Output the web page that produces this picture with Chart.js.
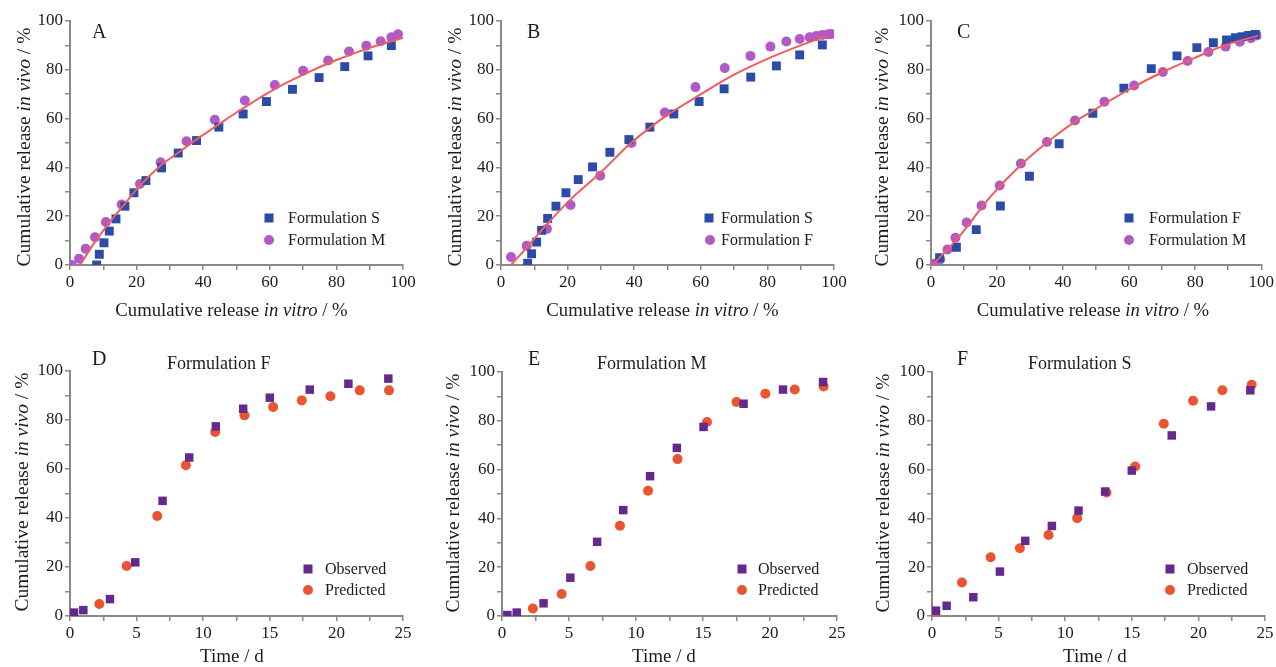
<!DOCTYPE html>
<html><head><meta charset="utf-8">
<script src="https://cdn.jsdelivr.net/npm/chart.js@4.4.1/dist/chart.umd.min.js"></script>
<style>
html,body{margin:0;padding:0;background:#fff;width:1276px;height:667px;overflow:hidden;position:relative}
canvas{position:absolute;display:block}
</style></head><body>
<canvas id="cA"></canvas><canvas id="cB"></canvas><canvas id="cC"></canvas>
<canvas id="cD"></canvas><canvas id="cE"></canvas><canvas id="cF"></canvas>
<script>
// ---------- DATA ----------
// Panel A: Formulation S vs Formulation M (in vitro vs in vivo)
const aSx = [8,8.8,10.2,11.8,13.8,16.5,19.2,22.8,27.5,32.5,38,44.7,52,59,66.8,74.8,82.5,89.5,96.5];
const aSy = [0,4.4,9.1,13.9,18.9,24.1,29.6,34.6,39.8,45.9,51,56.5,61.9,67,72,76.8,81.3,85.7,89.9];
const aMx = [0.5,2.7,4.7,7.5,10.8,15.5,21,27.2,35,43.5,52.5,61.5,70,77.5,83.8,89,93.3,96.5,98.5];
const aMy = [0,2.6,6.7,11.4,17.6,24.8,33.2,42.1,50.7,59.5,67.4,73.8,79.6,83.8,87.5,89.9,91.7,93.3,94.6];
const aFitX = [3,7.5,10.5,15.8,20,27,33,38,44,50,60,70,80,90,100];
const aFitY = [0,9.5,15,24,31,40.5,46.5,51.5,57,62.5,71,78,84,89,93];
// Panel B: Formulation S vs Formulation F
const bSx = [8,9.2,10.7,12.2,14,16.5,19.5,23.2,27.5,32.7,38.4,44.7,51.9,59.5,67,75,82.7,89.7,96.5];
const bSy = [0.7,4.6,9.4,14.2,19.1,24.1,29.6,35,40.2,46.2,51.4,56.5,61.9,67,72.2,77,81.6,86.1,90.2];
const bFx = [3,7.7,13.8,20.9,29.8,39.2,49.2,58.4,67.2,74.9,80.9,85.7,89.7,92.7,94.7,96.5,98.2,99.2];
const bFy = [3.3,7.9,14.8,24.6,36.6,50,62.5,72.9,80.7,85.7,89.5,91.6,92.6,93.3,93.9,94.3,94.6,94.7];
const bFitX = [3,8,14,21,30,39,45,50,60,70,80,90,98];
const bFitY = [0,7.5,17,27,38,50,56.5,61.5,70,78,84.5,90,94];
// Panel C: Formulation F vs Formulation M
const cFx = [2.6,7.7,13.7,21,29.8,38.8,49,58.4,66.7,74.5,80.5,85.5,89.5,92.2,94.2,96.2,98.2];
const cFy = [3,7.3,14.5,24.2,36.4,49.7,62.2,72.5,80.5,85.7,89.1,91.1,92.2,93.2,93.6,94.1,94.5];
const cMx = [0.8,2.8,5,7.4,10.8,15.3,20.8,27.2,35.1,43.6,52.5,61.5,70.2,77.7,84,89.2,93.5,96.9,98.7];
const cMy = [0.5,2.3,6.4,11.2,17.4,24.4,32.6,41.6,50.4,59.2,66.9,73.6,79.1,83.6,87.3,89.5,91.5,92.9,94.1];
const cFitX = [0.5,8,18,28,38,45,50,60,70,80,90,99];
const cFitY = [0,10.8,28,42,53.3,60,64,72,79,85,90.5,94];
// Panel D: Formulation F, observed vs predicted (time, d)
const dOx = [0.3,1,3,4.9,6.95,8.95,10.95,13,15,18,20.9,23.9];
const dOy = [1.4,2.4,6.9,21.9,47,64.7,77.4,84.6,89.1,92.4,94.8,96.9];
const dPx = [2.2,4.25,6.55,8.7,10.9,13.1,15.25,17.4,19.55,21.75,23.95];
const dPy = [4.9,20.4,40.8,61.5,75.1,81.9,85.3,88,89.7,92.1,92.1];
// Panel E: Formulation M
const eOx = [0.4,1.1,3.1,5.1,7.1,9.05,11.05,13.05,15.04,18.03,20.97,23.96];
const eOy = [0.4,1.4,5.2,15.7,30.4,43.4,57.3,68.9,77.5,87,92.8,95.9];
const ePx = [2.3,4.45,6.6,8.8,10.9,13.1,15.3,17.5,19.65,21.85,24];
const ePy = [3.1,9,20.5,37,51.3,64.3,79.5,87.7,91.1,92.8,94.1];
// Panel F: Formulation S
const fOx = [0.3,1.1,3.1,5.1,7,9,11,13,15,18,20.95,23.9];
const fOy = [2.2,4.2,7.7,18.2,30.8,36.9,43.2,51,59.6,74,85.9,92.5];
const fPx = [0.25,2.25,4.4,6.6,8.75,10.9,13.1,15.25,17.4,19.6,21.8,24];
const fPy = [0.8,13.7,24.1,27.8,33.2,40.1,50.6,61.3,78.8,88.2,92.5,94.8];

// tick settings
const yTickStep = 10, yLabelStep = 20;
const xTopStep = 10, xTopLabelStep = 20;
const xBotStep = 2.5, xBotLabelStep = 5;

// ---------- STYLE ----------
const FONT = '"Liberation Serif", "Times New Roman", serif';
const INK = '#1c1c1c';
const AXIS = '#8a8a8a';
const BLUE = '#2b4ba6';
const PURPLE = '#b25ac4';
const FIT = '#f05c5c';
const OBS = '#65298d';
const PRED = '#ea5431';

const pts = (xs, ys) => xs.map((x, i) => ({x: x, y: ys[i]}));

function drawMixed(ctx, segs, x, y, size, align) {
  const widths = segs.map(s => { ctx.font = (s[1] ? 'italic ' : '') + size + 'px ' + FONT; return ctx.measureText(s[0]).width; });
  const total = widths.reduce((a, b) => a + b, 0);
  let cx = align === 'center' ? x - total / 2 : x;
  ctx.textAlign = 'left';
  segs.forEach((s, i) => { ctx.font = (s[1] ? 'italic ' : '') + size + 'px ' + FONT; ctx.fillText(s[0], cx, y); cx += widths[i]; });
}

function decoPlugin(box, spec) {
  return {
    id: 'deco',
    afterDraw(chart) {
      const ctx = chart.ctx, ox = box.left, oy = box.top;
      ctx.save();
      ctx.fillStyle = INK;
      ctx.textBaseline = 'alphabetic';
      ctx.textAlign = 'left';
      ctx.font = '20px ' + FONT;
      ctx.fillText(spec.letter, spec.letterX - ox, spec.letterY - oy);
      if (spec.title) {
        ctx.font = '18px ' + FONT;
        ctx.fillText(spec.title, spec.titleX - ox, spec.titleY - oy);
      }
      drawMixed(ctx, spec.xTitle, spec.xTitleX - ox, spec.xTitleY - oy, spec.xSize, spec.xAlign);
      ctx.save();
      ctx.translate(spec.yTitleX - ox, spec.yTitleY - oy);
      ctx.rotate(-Math.PI / 2);
      ctx.textBaseline = 'middle';
      drawMixed(ctx, [['Cumulative release ', false], ['in vivo', true], [' / %', false]], 0, 0, 19.5, 'center');
      ctx.restore();
      // legend
      ctx.textBaseline = 'middle';
      spec.legend.forEach(it => {
        const ds = chart.data.datasets[it.ds];
        ctx.fillStyle = ds.backgroundColor;
        const mx = it.mx - ox, my = it.my - oy;
        if (ds.pointStyle === 'rect') {
          ctx.fillRect(mx - 4.5, my - 4.5, 9, 9);
        } else {
          ctx.beginPath(); ctx.arc(mx, my, 5, 0, Math.PI * 2); ctx.fill();
        }
        ctx.fillStyle = INK;
        ctx.font = '16px ' + FONT;
        ctx.fillText(ds.label, it.tx - ox, my + 1);
      });
      ctx.restore();
    }
  };
}

function axisCommon(step, labelStep) {
  return {
    ticks: {
      stepSize: step, autoSkip: false, maxRotation: 0, padding: 2, color: INK,
      font: {family: FONT, size: 17},
      callback: v => (Math.abs(v / labelStep - Math.round(v / labelStep)) < 1e-6) ? String(Math.round(v)) : ''
    },
    grid: {drawOnChartArea: false, drawTicks: true, tickLength: 5, color: AXIS, lineWidth: 1.5},
    border: {display: true, color: AXIS, width: 2}
  };
}

function makeChart(id, box, area, datasets, xMax, xStep, xLabelStep, spec) {
  const cv = document.getElementById(id);
  cv.width = box.w; cv.height = box.h;
  cv.style.left = box.left + 'px'; cv.style.top = box.top + 'px';
  cv.style.width = box.w + 'px'; cv.style.height = box.h + 'px';
  const xs = axisCommon(xStep, xLabelStep);
  const ys = axisCommon(yTickStep, yLabelStep);
  new Chart(cv, {
    type: 'scatter',
    data: {datasets: datasets},
    options: {
      responsive: false, animation: false, events: [], devicePixelRatio: 1,
      layout: {padding: {left: 0, top: area.t - box.top, right: box.left + box.w - area.r, bottom: 0}},
      plugins: {legend: {display: false}, tooltip: {enabled: false}},
      scales: {
        x: Object.assign({type: 'linear', position: 'bottom', min: 0, max: xMax,
          afterFit(s) { s.height = box.top + box.h - area.b; }}, xs),
        y: Object.assign({type: 'linear', position: 'left', min: 0, max: 100,
          afterFit(s) { s.width = area.l - box.left; }}, ys)
      }
    },
    plugins: [decoPlugin(box, spec)]
  });
}

const fitDs = (xs, ys) => ({label: 'fit', data: pts(xs, ys), showLine: true, pointRadius: 0, borderColor: FIT, borderWidth: 2, cubicInterpolationMode: 'monotone', fill: false});
const sqDs = (label, xs, ys, c, r) => ({label: label, data: pts(xs, ys), pointStyle: 'rect', pointRadius: r, backgroundColor: c, borderWidth: 0});
const ciDs = (label, xs, ys, c) => ({label: label, data: pts(xs, ys), pointStyle: 'circle', pointRadius: 5, backgroundColor: c, borderWidth: 0});

const vitro = [['Cumulative release ', false], ['in vitro', true], [' / %', false]];
const timeT = [['Time / d', false]];

// Top row
const boxA = {left: 0, top: 0, w: 428, h: 330};
const boxB = {left: 428, top: 0, w: 428, h: 330};
const boxC = {left: 856, top: 0, w: 420, h: 330};
makeChart('cA', boxA, {l: 70, t: 21, r: 403, b: 265},
  [fitDs(aFitX, aFitY), sqDs('Formulation S', aSx, aSy, BLUE, 6.3), ciDs('Formulation M', aMx, aMy, PURPLE)],
  100, xTopStep, xTopLabelStep,
  {letter: 'A', letterX: 92, letterY: 38, xTitle: vitro, xTitleX: 231.5, xTitleY: 316, xSize: 18.7, xAlign: 'center',
   yTitleX: 25, yTitleY: 147,
   legend: [{ds: 1, mx: 269, my: 218, tx: 288}, {ds: 2, mx: 269, my: 240, tx: 288}]});
makeChart('cB', boxB, {l: 501, t: 21, r: 834, b: 265},
  [fitDs(bFitX, bFitY), sqDs('Formulation S', bSx, bSy, BLUE, 6.3), ciDs('Formulation F', bFx, bFy, PURPLE)],
  100, xTopStep, xTopLabelStep,
  {letter: 'B', letterX: 527, letterY: 38, xTitle: vitro, xTitleX: 662.5, xTitleY: 316, xSize: 18.7, xAlign: 'center',
   yTitleX: 456, yTitleY: 147,
   legend: [{ds: 1, mx: 709, my: 218, tx: 721}, {ds: 2, mx: 710, my: 240, tx: 721}]});
makeChart('cC', boxC, {l: 931, t: 21, r: 1264, b: 265},
  [fitDs(cFitX, cFitY), sqDs('Formulation F', cFx, cFy, BLUE, 6.3), ciDs('Formulation M', cMx, cMy, PURPLE)],
  100, xTopStep, xTopLabelStep,
  {letter: 'C', letterX: 957, letterY: 38, xTitle: vitro, xTitleX: 1093, xTitleY: 316, xSize: 18.7, xAlign: 'center',
   yTitleX: 883, yTitleY: 147,
   legend: [{ds: 1, mx: 1129, my: 218, tx: 1149}, {ds: 2, mx: 1129, my: 240, tx: 1149}]});

// Bottom row
const boxD = {left: 0, top: 330, w: 428, h: 337};
const boxE = {left: 428, top: 330, w: 428, h: 337};
const boxF = {left: 856, top: 330, w: 420, h: 337};
makeChart('cD', boxD, {l: 70, t: 371, r: 403, b: 616},
  [sqDs('Observed', dOx, dOy, OBS, 6), ciDs('Predicted', dPx, dPy, PRED)],
  25, xBotStep, xBotLabelStep,
  {letter: 'D', letterX: 92, letterY: 365, title: 'Formulation F', titleX: 167, titleY: 369,
   xTitle: timeT, xTitleX: 200, xTitleY: 662, xSize: 19, xAlign: 'left', yTitleX: 23, yTitleY: 492,
   legend: [{ds: 0, mx: 308, my: 569, tx: 325}, {ds: 1, mx: 308, my: 590, tx: 325}]});
makeChart('cE', boxE, {l: 502, t: 372, r: 837, b: 616},
  [sqDs('Observed', eOx, eOy, OBS, 6), ciDs('Predicted', ePx, ePy, PRED)],
  25, xBotStep, xBotLabelStep,
  {letter: 'E', letterX: 528, letterY: 365, title: 'Formulation M', titleX: 597, titleY: 369,
   xTitle: timeT, xTitleX: 632, xTitleY: 662, xSize: 19, xAlign: 'left', yTitleX: 454, yTitleY: 493,
   legend: [{ds: 0, mx: 742, my: 569, tx: 758}, {ds: 1, mx: 742, my: 590, tx: 758}]});
makeChart('cF', boxF, {l: 932, t: 372, r: 1265, b: 616},
  [sqDs('Observed', fOx, fOy, OBS, 6), ciDs('Predicted', fPx, fPy, PRED)],
  25, xBotStep, xBotLabelStep,
  {letter: 'F', letterX: 957, letterY: 365, title: 'Formulation S', titleX: 1028, titleY: 369,
   xTitle: timeT, xTitleX: 1063, xTitleY: 662, xSize: 19, xAlign: 'left', yTitleX: 884, yTitleY: 493,
   legend: [{ds: 0, mx: 1170, my: 569, tx: 1187}, {ds: 1, mx: 1170, my: 590, tx: 1187}]});
</script>
</body></html>
